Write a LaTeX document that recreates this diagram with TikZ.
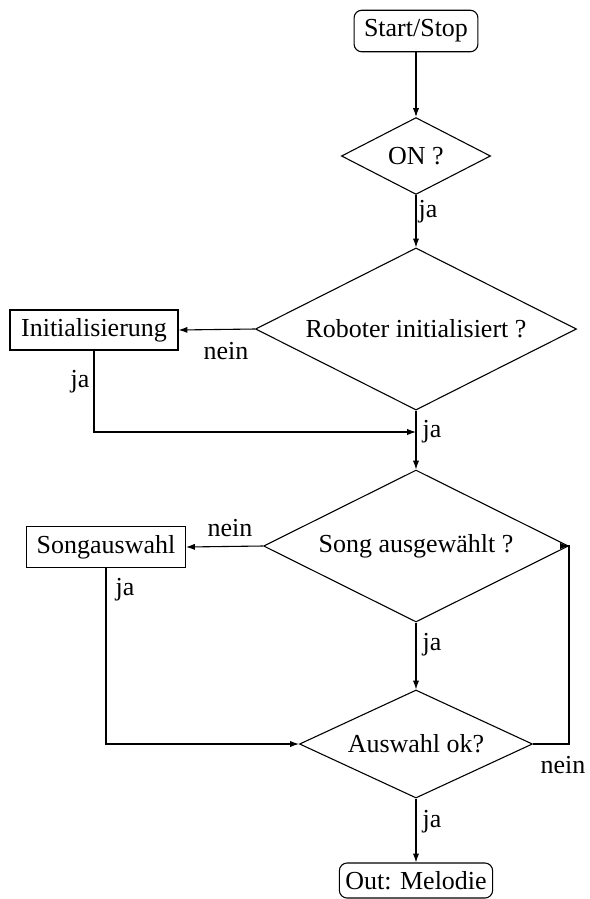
\documentclass[tikz,border=0pt]{standalone}
\usepackage{fontspec}
\setmainfont{Liberation Serif}
\usetikzlibrary{shapes.geometric,arrows.meta}
\begin{document}
\begin{tikzpicture}[x=0.385pt,y=-0.385pt,
  line width=0.42pt,
  term/.style={draw,rounded corners=3pt,inner sep=2pt,font=\fontsize{10}{12}\selectfont},
  proc/.style={draw,rectangle,inner sep=0pt,font=\fontsize{10}{12}\selectfont},
  dec/.style={draw,diamond,aspect=2,inner sep=0.5pt,font=\fontsize{10}{12}\selectfont},
  lbl/.style={inner sep=0pt,font=\fontsize{10}{12}\selectfont},
  arr/.style={-{Latex[length=3.4pt,width=2.4pt]}}]
\useasboundingbox (0,0) rectangle (590,899);
\node[term,minimum width=47.7pt,minimum height=16pt] (start) at (416,31) {Start/Stop};
\node[dec,minimum width=57.4pt,minimum height=29.6pt] (on) at (416,156) {ON ?};
\node[dec,minimum width=123.6pt,minimum height=62.4pt] (robot) at (416,329) {Roboter initialisiert ?};
\node[proc,minimum width=64.7pt,minimum height=15.4pt] (init) at (94,330) {Initialisierung};
\node[dec,minimum width=117.4pt,minimum height=58.5pt] (song) at (416,546) {Song ausgewählt ?};
\node[proc,minimum width=61.2pt,minimum height=15.8pt] (songsel) at (106,547) {Songauswahl};
\node[dec,minimum width=89.7pt,minimum height=41.6pt] (auswahl) at (416,744) {Auswahl ok?};
\node[term,minimum width=59pt,minimum height=13.5pt] (out) at (416,880.5) {Out: Melodie};
\coordinate (j1) at (416,432);
\coordinate (r1) at (569,744);
\draw[arr] (start) -- (on);
\draw[arr] (on) -- (robot);
\draw[arr] (robot.west) -- (init.east);
\draw[arr] (init.south) |- (j1);
\draw[arr] (robot.south) -- (song.north);
\draw[arr] (song.west) -- (songsel.east);
\draw[arr] (songsel.south) |- (auswahl.west);
\draw[arr] (song.south) -- (auswahl.north);
\draw[arr] (auswahl.east) -- (r1) |- (song.east);
\draw[arr] (auswahl.south) -- (out.north);
\node[lbl] (l1) at (428,212) {ja};
\node[lbl] (l2) at (226,351) {nein};
\node[lbl] (l3) at (80,382) {ja};
\node[lbl] (l4) at (432,432) {ja};
\node[lbl] (l5) at (230,528) {nein};
\node[lbl] (l6) at (125,590) {ja};
\node[lbl] (l7) at (432,645) {ja};
\node[lbl] (l8) at (563,765) {nein};
\node[lbl] (l9) at (432,822) {ja};
\end{tikzpicture}
\end{document}
